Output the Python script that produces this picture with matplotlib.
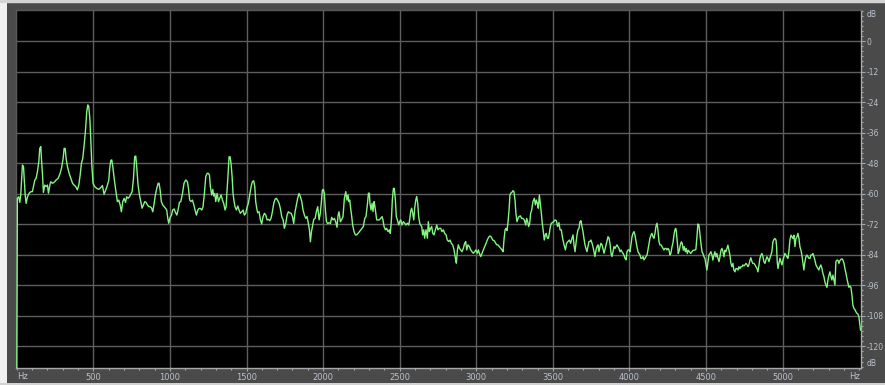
import matplotlib
matplotlib.use("Agg")
import matplotlib.pyplot as plt
from matplotlib.ticker import MultipleLocator
from matplotlib.patches import Rectangle

# Spectrum trace: frequency (Hz) and level (dB)
freq_hz = [
    0, 4, 13, 20, 26, 33, 37, 44,
    50, 55, 61, 70, 81, 92, 102, 109,
    118, 126, 135, 144, 150, 157, 161, 168,
    174, 183, 192, 200, 207, 216, 222, 233,
    244, 257, 270, 283, 292, 303, 309, 316,
    322, 331, 342, 353, 364, 374, 385, 396,
    405, 414, 422, 431, 440, 448, 457, 464,
    470, 477, 483, 490, 498, 509, 522, 535,
    548, 559, 570, 581, 592, 601, 607, 614,
    620, 627, 636, 646, 657, 666, 675, 683,
    692, 701, 710, 718, 727, 736, 744, 753,
    762, 770, 777, 783, 792, 801, 810, 818,
    827, 836, 844, 853, 862, 870, 879, 888,
    897, 905, 914, 923, 929, 936, 944, 953,
    962, 971, 979, 986, 992, 1001, 1010, 1018,
    1027, 1036, 1045, 1053, 1062, 1071, 1082, 1092,
    1103, 1114, 1121, 1129, 1138, 1147, 1156, 1164,
    1173, 1182, 1190, 1199, 1208, 1216, 1225, 1234,
    1243, 1251, 1258, 1264, 1273, 1280, 1286, 1293,
    1299, 1308, 1317, 1325, 1334, 1343, 1351, 1360,
    1367, 1373, 1380, 1386, 1393, 1399, 1406, 1412,
    1419, 1425, 1434, 1443, 1451, 1460, 1469, 1478,
    1486, 1495, 1504, 1512, 1521, 1530, 1538, 1547,
    1554, 1560, 1567, 1573, 1582, 1591, 1599, 1608,
    1617, 1626, 1634, 1643, 1652, 1660, 1669, 1678,
    1686, 1695, 1704, 1713, 1721, 1730, 1739, 1747,
    1756, 1765, 1773, 1782, 1791, 1800, 1808, 1817,
    1826, 1834, 1843, 1852, 1861, 1869, 1878, 1887,
    1895, 1904, 1911, 1917, 1924, 1930, 1939, 1948,
    1956, 1965, 1974, 1982, 1989, 1995, 2002, 2008,
    2015, 2022, 2030, 2039, 2048, 2056, 2065, 2074,
    2082, 2091, 2098, 2104, 2113, 2122, 2130, 2139,
    2148, 2156, 2163, 2167, 2174, 2180, 2187, 2193,
    2202, 2211, 2219, 2228, 2237, 2246, 2254, 2263,
    2272, 2280, 2289, 2296, 2302, 2306, 2313, 2320,
    2326, 2333, 2337, 2343, 2350, 2359, 2367, 2376,
    2385, 2391, 2398, 2407, 2415, 2424, 2433, 2439,
    2446, 2452, 2459, 2465, 2472, 2478, 2485, 2494,
    2500, 2507, 2515, 2524, 2533, 2541, 2550, 2559,
    2565, 2572, 2578, 2585, 2592, 2598, 2605, 2611,
    2618, 2624, 2631, 2637, 2644, 2650, 2657, 2663,
    2672, 2681, 2687, 2694, 2702, 2709, 2716, 2724,
    2733, 2742, 2750, 2759, 2768, 2776, 2785, 2794,
    2803, 2811, 2820, 2829, 2837, 2846, 2855, 2864,
    2870, 2877, 2883, 2890, 2898, 2907, 2916, 2924,
    2931, 2938, 2946, 2955, 2964, 2972, 2981, 2990,
    2998, 3007, 3014, 3020, 3029, 3038, 3046, 3055,
    3064, 3072, 3081, 3090, 3099, 3107, 3116, 3125,
    3133, 3142, 3151, 3159, 3168, 3175, 3181, 3188,
    3194, 3201, 3207, 3214, 3220, 3225, 3231, 3240,
    3246, 3253, 3259, 3266, 3273, 3279, 3288, 3296,
    3305, 3314, 3323, 3329, 3336, 3342, 3349, 3355,
    3362, 3370, 3379, 3386, 3392, 3399, 3405, 3412,
    3418, 3425, 3431, 3438, 3444, 3451, 3457, 3464,
    3471, 3477, 3484, 3490, 3497, 3505, 3514, 3523,
    3531, 3540, 3547, 3555, 3564, 3573, 3582, 3590,
    3599, 3608, 3616, 3625, 3632, 3638, 3645, 3651,
    3658, 3664, 3671, 3677, 3684, 3690, 3697, 3703,
    3710, 3716, 3723, 3729, 3736, 3743, 3749, 3756,
    3762, 3769, 3775, 3782, 3788, 3795, 3801, 3808,
    3814, 3821, 3827, 3834, 3840, 3847, 3853, 3860,
    3867, 3873, 3880, 3886, 3893, 3899, 3906, 3912,
    3919, 3925, 3932, 3938, 3945, 3951, 3958, 3964,
    3971, 3978, 3984, 3991, 3997, 4004, 4010, 4017,
    4023, 4030, 4036, 4043, 4049, 4056, 4062, 4069,
    4075, 4082, 4089, 4095, 4102, 4108, 4115, 4121,
    4128, 4134, 4141, 4147, 4154, 4160, 4167, 4173,
    4180, 4186, 4193, 4199, 4206, 4213, 4219, 4226,
    4232, 4239, 4245, 4252, 4258, 4265, 4271, 4278,
    4284, 4291, 4297, 4302, 4306, 4313, 4319, 4326,
    4332, 4339, 4345, 4352, 4358, 4365, 4371, 4378,
    4384, 4391, 4400, 4408, 4417, 4426, 4434, 4441,
    4447, 4454, 4460, 4467, 4474, 4480, 4487, 4493,
    4500, 4506, 4513, 4519, 4526, 4532, 4539, 4545,
    4552, 4558, 4565, 4571, 4578, 4585, 4591, 4598,
    4604, 4611, 4617, 4624, 4630, 4637, 4643, 4650,
    4656, 4663, 4669, 4676, 4682, 4689, 4696, 4702,
    4709, 4715, 4722, 4728, 4735, 4741, 4748, 4754,
    4761, 4767, 4774, 4780, 4787, 4793, 4800, 4806,
    4813, 4820, 4826, 4833, 4839, 4846, 4852, 4859,
    4865, 4872, 4878, 4885, 4891, 4898, 4904, 4911,
    4917, 4924, 4930, 4937, 4944, 4950, 4957, 4961,
    4965, 4970, 4976, 4983, 4989, 4996, 5002, 5009,
    5015, 5022, 5028, 5035, 5041, 5048, 5055, 5061,
    5068, 5074, 5081, 5087, 5094, 5100, 5107, 5113,
    5120, 5126, 5133, 5139, 5146, 5152, 5159, 5166,
    5172, 5179, 5185, 5192, 5198, 5205, 5211, 5218,
    5224, 5231, 5237, 5244, 5250, 5257, 5263, 5270,
    5276, 5283, 5290, 5296, 5303, 5309, 5316, 5322,
    5329, 5335, 5342, 5348, 5355, 5361, 5368, 5374,
    5381, 5388, 5394, 5401, 5407, 5414, 5420, 5427,
    5433, 5440, 5446, 5453, 5459, 5466, 5472, 5479,
    5485, 5492, 5498, 5505, 5509,
]

level_db = [
    -135, -61.8, -61.2, -63.4, -60.5, -52.6, -48.7, -49.4,
    -55.3, -60.5, -63.8, -61.2, -59.8, -59.2, -59.2, -57.2,
    -54.6, -54.0, -51.3, -47.4, -42.2, -41.5, -46.1, -52.6,
    -59.5, -56.6, -57.2, -56.6, -59.8, -56.6, -55.3, -55.9,
    -55.5, -54.6, -54.0, -52.0, -50.0, -46.1, -42.2, -42.2,
    -46.1, -49.4, -52.0, -54.0, -55.9, -56.6, -57.2, -58.5,
    -56.6, -52.6, -48.1, -46.1, -40.9, -35.6, -27.7, -25.1,
    -25.8, -30.4, -38.2, -48.7, -55.9, -57.2, -57.9, -58.3,
    -57.6, -56.8, -60.2, -58.5, -56.6, -54.6, -50.0, -46.9,
    -46.7, -49.4, -54.0, -58.5, -63.1, -62.5, -64.4, -67.1,
    -63.1, -61.8, -63.4, -61.2, -61.8, -61.2, -60.2, -59.2,
    -54.0, -45.4, -45.2, -49.4, -56.6, -60.5, -63.1, -65.7,
    -64.4, -63.1, -63.4, -64.4, -65.1, -65.1, -65.5, -67.1,
    -63.8, -60.5, -57.9, -55.9, -55.9, -58.5, -63.1, -64.4,
    -65.1, -65.7, -66.4, -69.7, -71.6, -69.4, -68.4, -66.4,
    -66.0, -67.3, -68.4, -66.4, -63.4, -63.1, -59.9, -55.9,
    -54.6, -55.3, -57.9, -62.5, -63.1, -62.5, -64.4, -66.4,
    -68.4, -66.4, -65.8, -65.8, -66.4, -65.1, -59.9, -53.3,
    -52.0, -52.0, -52.7, -57.2, -60.5, -58.3, -60.9, -59.9,
    -63.1, -59.9, -63.1, -61.8, -60.5, -62.5, -63.8, -66.4,
    -65.1, -58.6, -52.0, -45.5, -45.5, -48.1, -53.3, -59.9,
    -63.1, -65.1, -66.4, -64.8, -66.4, -67.7, -67.1, -66.4,
    -68.4, -67.7, -65.1, -63.8, -60.5, -57.2, -55.3, -54.9,
    -57.2, -63.1, -65.8, -67.5, -67.1, -70.3, -71.9, -69.0,
    -67.7, -68.4, -70.3, -70.1, -70.6, -69.7, -67.1, -63.8,
    -62.2, -61.8, -62.7, -63.8, -65.8, -69.0, -70.3, -73.6,
    -71.7, -68.4, -67.1, -67.5, -67.7, -69.0, -71.7, -67.1,
    -64.4, -61.8, -59.9, -61.2, -63.1, -66.4, -68.4, -69.7,
    -69.0, -71.7, -74.3, -78.9, -74.9, -73.0, -70.1, -69.7,
    -67.1, -65.1, -70.3, -67.7, -63.1, -58.6, -58.3, -59.9,
    -66.4, -71.0, -71.7, -71.4, -71.7, -69.3, -70.3, -69.7,
    -71.0, -73.2, -68.4, -67.1, -71.0, -70.1, -69.0, -61.8,
    -59.2, -62.5, -60.5, -63.1, -62.5, -65.7, -69.0, -72.3,
    -74.9, -76.2, -76.2, -75.6, -74.9, -74.2, -73.6, -72.9,
    -69.7, -69.0, -64.4, -59.8, -59.8, -63.8, -66.4, -63.8,
    -67.0, -63.1, -64.4, -67.0, -70.3, -70.3, -70.3, -69.7,
    -69.0, -70.3, -72.9, -74.2, -73.6, -74.9, -74.2, -75.6,
    -70.3, -62.5, -57.9, -57.9, -62.5, -69.0, -70.3, -72.3,
    -71.0, -70.3, -72.3, -71.0, -71.6, -72.3, -71.6, -72.3,
    -70.3, -67.0, -65.7, -67.7, -70.3, -65.7, -62.5, -61.1,
    -63.8, -69.0, -71.6, -72.3, -72.9, -76.2, -74.2, -77.5,
    -74.2, -77.5, -71.0, -74.9, -73.6, -72.9, -75.6, -76.2,
    -74.2, -72.3, -74.2, -73.6, -73.6, -74.9, -74.2, -75.6,
    -76.2, -78.2, -78.8, -78.2, -79.5, -80.1, -82.1, -85.4,
    -87.3, -82.1, -80.1, -81.4, -82.1, -82.8, -81.4, -79.5,
    -78.8, -82.1, -80.1, -80.8, -82.1, -82.8, -83.4, -82.8,
    -82.1, -83.4, -82.1, -83.4, -84.7, -83.4, -82.1, -80.8,
    -79.5, -78.2, -77.1, -76.6, -77.1, -78.2, -78.4, -79.2,
    -80.1, -80.1, -80.8, -81.4, -82.1, -82.8, -78.2, -74.2,
    -73.6, -74.5, -71.4, -66.4, -60.5, -59.8, -59.6, -58.8,
    -59.2, -62.5, -67.7, -71.0, -69.7, -69.0, -68.7, -69.7,
    -69.7, -70.3, -72.3, -69.7, -71.0, -72.9, -71.6, -67.7,
    -66.4, -63.1, -61.8, -64.4, -62.5, -63.8, -65.7, -60.5,
    -63.8, -67.7, -71.6, -74.9, -78.2, -76.2, -75.6, -77.5,
    -77.5, -75.6, -72.9, -71.6, -71.4, -71.0, -70.3, -70.6,
    -72.9, -71.4, -74.2, -74.2, -77.5, -80.1, -82.1, -79.5,
    -78.8, -78.2, -79.5, -77.5, -76.2, -80.1, -82.8, -79.5,
    -76.2, -74.2, -73.6, -71.0, -70.6, -72.9, -74.9, -77.5,
    -80.1, -81.5, -82.8, -80.8, -78.8, -78.8, -78.2, -79.5,
    -80.8, -82.8, -84.7, -82.1, -80.8, -80.1, -82.8, -80.8,
    -79.5, -80.1, -81.5, -83.4, -82.1, -80.1, -78.8, -76.9,
    -77.5, -79.5, -83.4, -84.7, -82.8, -80.8, -81.5, -80.8,
    -80.1, -80.8, -81.5, -82.8, -82.1, -82.8, -83.4, -84.1,
    -85.4, -86.0, -82.8, -82.1, -82.1, -82.8, -80.1, -76.9,
    -75.6, -74.9, -76.2, -78.8, -80.8, -82.8, -83.4, -84.1,
    -85.4, -85.4, -84.7, -86.0, -85.4, -84.7, -84.1, -82.1,
    -79.5, -77.5, -76.2, -75.6, -76.9, -77.5, -75.6, -72.9,
    -71.6, -74.2, -78.8, -80.1, -80.1, -80.8, -81.5, -82.1,
    -81.5, -81.5, -82.1, -81.5, -82.1, -84.1, -83.4, -80.8,
    -79.5, -76.2, -74.2, -73.6, -74.6, -79.5, -83.5, -82.2,
    -80.2, -78.9, -79.5, -82.2, -80.8, -82.8, -81.5, -83.5,
    -82.2, -82.8, -83.5, -82.8, -82.2, -82.2, -81.9, -76.9,
    -71.9, -72.3, -75.6, -79.5, -82.8, -83.5, -84.8, -85.4,
    -88.0, -90.0, -86.7, -84.1, -83.5, -82.8, -84.1, -86.1,
    -84.1, -82.8, -84.8, -83.5, -85.4, -86.7, -84.8, -82.2,
    -81.5, -82.8, -84.8, -82.2, -82.8, -81.5, -80.2, -82.2,
    -84.1, -87.4, -88.7, -87.4, -90.0, -90.7, -89.4, -89.4,
    -90.0, -88.7, -89.4, -88.7, -88.7, -88.0, -88.4, -88.0,
    -87.4, -87.8, -88.7, -88.0, -86.1, -85.2, -86.7, -87.4,
    -87.4, -88.0, -88.7, -89.4, -90.7, -88.0, -85.4, -84.1,
    -83.5, -84.8, -86.7, -87.4, -86.1, -84.8, -85.4, -86.7,
    -85.4, -84.1, -82.8, -78.9, -78.0, -77.6, -78.2, -80.8,
    -86.7, -89.4, -87.4, -85.4, -86.7, -88.0, -86.1, -84.8,
    -83.5, -84.1, -84.8, -85.4, -82.8, -78.2, -76.3, -76.9,
    -77.6, -76.3, -80.8, -77.6, -76.9, -75.6, -77.6, -80.8,
    -82.2, -84.1, -87.4, -90.0, -86.7, -84.8, -84.1, -84.8,
    -85.4, -85.4, -84.1, -84.1, -83.5, -84.8, -86.1, -88.0,
    -88.7, -89.4, -90.0, -88.7, -88.0, -89.4, -91.3, -92.6,
    -94.6, -95.9, -96.8, -93.9, -92.0, -90.7, -92.6, -93.9,
    -92.0, -93.9, -95.9, -86.7, -86.1, -86.1, -87.4, -86.3,
    -85.8, -85.6, -86.1, -87.4, -89.4, -91.3, -93.3, -95.2,
    -96.8, -96.3, -96.8, -99.8, -103.8, -105.1, -105.5, -106.4,
    -107.0, -107.3, -108.3, -111.6, -113.6,
]

# Axis scales and labels
x_major = [500, 1000, 1500, 2000, 2500, 3000, 3500, 4000, 4500, 5000]
x_labels = ["500", "1000", "1500", "2000", "2500", "3000", "3500", "4000", "4500", "5000"]
y_major = [0, -12, -24, -36, -48, -60, -72, -84, -96, -108, -120]
y_labels = ["0", "-12", "-24", "-36", "-48", "-60", "-72", "-84", "-96", "-108", "-120"]
x_range = (-5, 5512)
y_range = (-128.5, 12.2)

W, H = 885, 385
PANEL = "#4a4a4a"
GRID = "#5e5e5e"
TEXT = "#b9c1cc"
AXIS = "#a8a8a8"
TRACE = "#84f482"

fig = plt.figure(figsize=(W / 100, H / 100), dpi=100, facecolor=PANEL)

# window frame around the panel
fig.patches.append(Rectangle((0, 0), 7 / W, 1, transform=fig.transFigure,
                             facecolor="#f0f0f0", edgecolor="none", zorder=-5))
fig.patches.append(Rectangle((0, 1 - 3 / H), 1, 3 / H, transform=fig.transFigure,
                             facecolor="#d4d4d4", edgecolor="none", zorder=-5))
fig.patches.append(Rectangle((7 / W, 1 - 4 / H), 1, 1 / H, transform=fig.transFigure,
                             facecolor="#6a6a6a", edgecolor="none", zorder=-5))
fig.patches.append(Rectangle((0, 0), 1, 2 / H, transform=fig.transFigure,
                             facecolor="#d2d2d2", edgecolor="none", zorder=-5))

left, right, top, bottom = 16, 861, 10, 368
ax = fig.add_axes([left / W, (H - bottom) / H, (right - left) / W, (bottom - top) / H])
ax.set_facecolor("black")

ax.plot(freq_hz, level_db, color=TRACE, lw=1.0, solid_joinstyle="round", zorder=3)

ax.set_xlim(*x_range)
ax.set_ylim(*y_range)

ax.set_xticks(x_major)
ax.set_xticklabels(x_labels)
ax.xaxis.set_minor_locator(MultipleLocator(100))
ax.set_yticks(y_major)
ax.set_yticklabels(y_labels)
ax.yaxis.set_minor_locator(MultipleLocator(2))
ax.yaxis.tick_right()

ax.set_axisbelow(True)
ax.grid(True, which="major", color=GRID, lw=1.0)

ax.tick_params(axis="x", which="major", direction="out", length=2.5, width=0.8,
               color=AXIS, labelcolor=TEXT, labelsize=6, pad=1.2)
ax.tick_params(axis="x", which="minor", direction="out", length=1.5, width=0.8, color=AXIS)
ax.tick_params(axis="y", which="major", direction="out", length=2.8, width=0.8,
               color=AXIS, labelcolor=TEXT, labelsize=5.5, pad=1.2)
ax.tick_params(axis="y", which="minor", direction="out", length=1.2, width=0.8, color=AXIS)

for side in ("left", "top"):
    ax.spines[side].set_color("#5a5a5a")
    ax.spines[side].set_linewidth(1.0)
for side in ("bottom", "right"):
    ax.spines[side].set_color(AXIS)
    ax.spines[side].set_linewidth(1.0)

# unit captions
ax.annotate("Hz", xy=(0, 0), xycoords="axes fraction", xytext=(1, -3.2),
            textcoords="offset points", ha="left", va="top", fontsize=6, color=TEXT)
ax.annotate("Hz", xy=(1, 0), xycoords="axes fraction", xytext=(-1, -3.2),
            textcoords="offset points", ha="right", va="top", fontsize=6, color=TEXT)
ax.annotate("dB", xy=(1, 1), xycoords="axes fraction", xytext=(4.2, -3),
            textcoords="offset points", ha="left", va="center", fontsize=5.5, color=TEXT)
ax.annotate("dB", xy=(1, 0), xycoords="axes fraction", xytext=(4.2, 3),
            textcoords="offset points", ha="left", va="center", fontsize=5.5, color=TEXT)

fig.savefig("out.png", dpi=100, facecolor=PANEL)
